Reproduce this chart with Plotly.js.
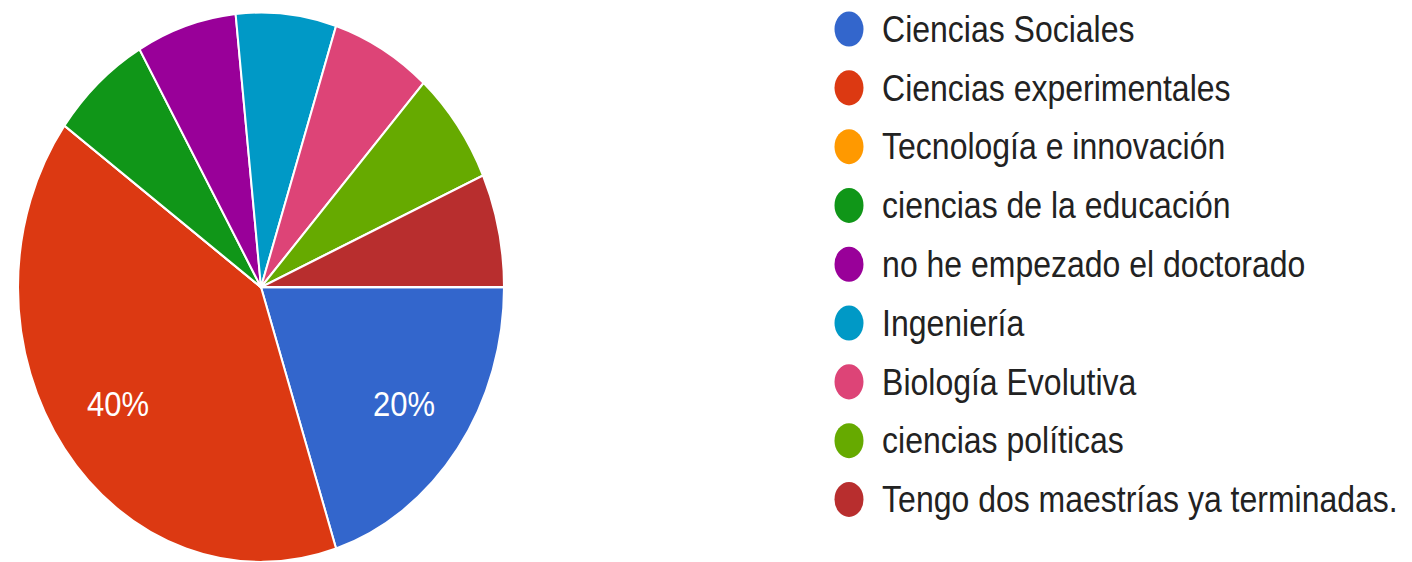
<!DOCTYPE html>
<html>
<head>
<meta charset="utf-8">
<script src="https://cdn.plot.ly/plotly-3.0.1.min.js"></script>
<style>
  html, body { margin: 0; padding: 0; background: #ffffff; }
  #wrap { width: 1412px; height: 562px; overflow: hidden; position: relative; }
  #chart { width: 1412px; height: 497px; transform: scaleY(1.1308); transform-origin: 0 0; }
</style>
</head>
<body>
<div id="wrap"><div id="chart"></div></div>
<script>
// Data (15 responses)
const categories = [
  "Ciencias Sociales",
  "Ciencias experimentales",
  "Tecnología e innovación",
  "ciencias de la educación",
  "no he empezado el doctorado",
  "Ingeniería",
  "Biología Evolutiva",
  "ciencias políticas",
  "Tengo dos maestrías ya terminadas."
];
const counts = [3, 6, 0, 1, 1, 1, 1, 1, 1];
const colors = ["#3366CC", "#DC3912", "#FF9900", "#109618", "#990099", "#0099C6", "#DD4477", "#66AA00", "#B82E2E"];

const total = counts.reduce((a, b) => a + b, 0);

const W = 1412, H = 497;
const pieX0 = 18, pieX1 = 504;           // pixel extent of the pie domain
const pieR = (pieX1 - pieX0) / 2;
const pieCx = (pieX0 + pieX1) / 2;
const pieYTop = H - 486;                  // domain y: [0, 486/H]
const pieCy = pieYTop + pieR;
const startDeg = 0;                       // 3 o'clock, going clockwise (rotation 90)

const trace = {
  type: "pie",
  labels: categories,
  values: counts,
  sort: false,
  direction: "clockwise",
  rotation: 90,
  marker: { colors: colors, line: { color: "#ffffff", width: 2 } },
  textinfo: "none",
  hoverinfo: "label+percent",
  showlegend: false,
  domain: { x: [pieX0 / W, pieX1 / W], y: [0.0, 486 / H] }
};

const labelFont = { family: "Liberation Sans, Arial, sans-serif", size: 31, color: "#ffffff" };
const annotations = [];
// percentage labels (only slices of at least 10%), placed along each slice's mid angle
let cum = 0;
counts.forEach((v, i) => {
  const frac = v / total;
  const mid = (startDeg + (cum + frac / 2) * 360) * Math.PI / 180;
  cum += frac;
  if (frac >= 0.1) {
    const px = pieCx + Math.cos(mid) * pieR * 0.727;
    const py = pieCy + Math.sin(mid) * pieR * 0.727;
    annotations.push({
      xref: "paper", yref: "paper", x: px / W, y: 1 - py / H,
      xanchor: "center", yanchor: "middle", showarrow: false,
      text: Math.round(frac * 100) + "%", font: labelFont
    });
  }
});

// custom legend: round swatches + text, built from the arrays
const legX = 849, legTextX = 880, legTop = 25.7, legStep = 52.0;
const shapes = [];
categories.forEach((c, i) => {
  const yc = 1 - (legTop + i * legStep) / H;
  shapes.push({
    type: "circle", xref: "paper", yref: "paper",
    xsizemode: "pixel", ysizemode: "pixel",
    xanchor: legX / W, yanchor: yc,
    x0: -14.5, x1: 14.5, y0: -15.5, y1: 15.5,
    fillcolor: colors[i], line: { width: 0 }
  });
  annotations.push({
    xref: "paper", yref: "paper",
    x: legTextX / W, y: yc,
    xanchor: "left", yanchor: "middle",
    text: c, showarrow: false,
    font: { family: "Liberation Sans, Arial, sans-serif", size: 32, color: "#222222" }
  });
});

const layout = {
  width: W, height: H,
  margin: { l: 0, r: 0, t: 0, b: 0 },
  paper_bgcolor: "#ffffff",
  showlegend: false,
  shapes: shapes,
  annotations: annotations
};

Plotly.newPlot("chart", [trace], layout, { displayModeBar: false, staticPlot: true });
</script>
</body>
</html>
